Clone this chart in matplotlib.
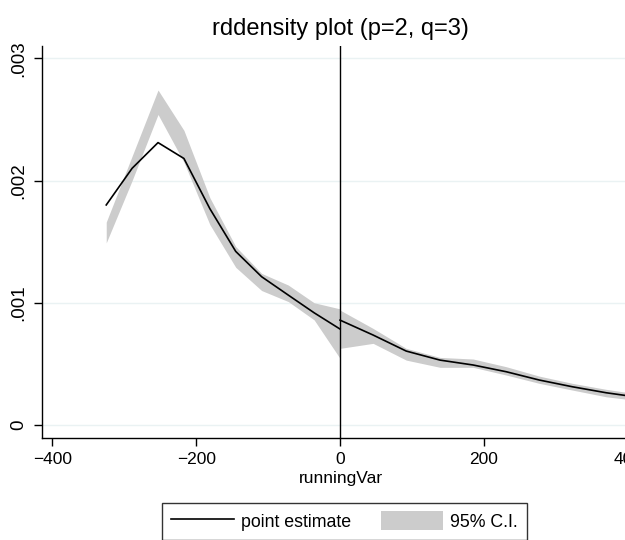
import matplotlib
matplotlib.use("Agg")
import matplotlib.pyplot as plt
from matplotlib.lines import Line2D
from matplotlib.patches import Patch

plt.rcParams["font.family"] = ["Liberation Sans", "DejaVu Sans"]

# density estimate left of cutoff
x_left = [-325, -289, -253, -217, -181, -145, -109, -72, -36, 0]
f_left = [1.80e-3, 2.10e-3, 2.31e-3, 2.18e-3, 1.77e-3, 1.42e-3, 1.213e-3, 1.063e-3, 0.918e-3, 0.785e-3]
lo_left = [1.49e-3, 2.00e-3, 2.54e-3, 2.15e-3, 1.64e-3, 1.29e-3, 1.10e-3, 1.01e-3, 0.86e-3, 0.545e-3]
hi_left = [1.66e-3, 2.20e-3, 2.74e-3, 2.41e-3, 1.86e-3, 1.46e-3, 1.24e-3, 1.145e-3, 1.00e-3, 0.95e-3]

# density estimate right of cutoff
x_right = [0, 46, 92, 139, 185, 231, 277, 323, 370, 416]
f_right = [0.858e-3, 0.736e-3, 0.605e-3, 0.531e-3, 0.491e-3, 0.436e-3, 0.368e-3, 0.313e-3, 0.264e-3, 0.226e-3]
lo_right = [0.627e-3, 0.668e-3, 0.531e-3, 0.472e-3, 0.472e-3, 0.409e-3, 0.341e-3, 0.286e-3, 0.231e-3, 0.199e-3]
hi_right = [0.940e-3, 0.790e-3, 0.627e-3, 0.553e-3, 0.540e-3, 0.477e-3, 0.400e-3, 0.341e-3, 0.292e-3, 0.252e-3]

x_ticks = [-400, -200, 0, 200, 400]
y_ticks = [0, 0.001, 0.002, 0.003]
y_labels = ["0", ".001", ".002", ".003"]

band_col = "#cccccc"

fig = plt.figure(figsize=(6.25, 5.4), dpi=100)
fig.patch.set_facecolor("white")
# axes deliberately runs past the right edge, like the cropped original
ax = fig.add_axes([0.0664, 0.1889, 0.9576, 0.7259])

for side in ("top", "right"):
    ax.spines[side].set_visible(False)
for side in ("left", "bottom"):
    ax.spines[side].set_linewidth(1.0)

ax.grid(axis="y", color="#eaf2f3", linewidth=1.0)
ax.set_axisbelow(True)

ax.fill_between(x_left, lo_left, hi_left, color=band_col, linewidth=0, zorder=2)
ax.fill_between(x_right, lo_right, hi_right, color=band_col, linewidth=0, zorder=2)
ax.plot(x_left, f_left, color="black", linewidth=1.2, zorder=3)
ax.plot(x_right, f_right, color="black", linewidth=1.2, zorder=3)
ax.axvline(0, color="black", linewidth=1.0, zorder=4)

ax.set_xlim(-415, 417)
ax.set_ylim(-0.000106, 0.0031)
ax.set_xticks(x_ticks)
ax.set_xticklabels(["\u2212400", "\u2212200", "0", "200", "400"])
ax.set_yticks(y_ticks)
ax.set_yticklabels(y_labels, rotation=90, va="center")
ax.tick_params(direction="out", length=6, width=1, labelsize=12.5, pad=4)
ax.tick_params(axis="y", labelsize=13.5)

ax.set_xlabel("runningVar", fontsize=12.5, labelpad=3)
ax.set_title("rddensity plot (p=2, q=3)", fontsize=17, pad=8)

handles = [Line2D([], [], color="black", linewidth=1.2),
           Patch(facecolor=band_col, edgecolor="none")]
leg = fig.legend(handles, ["point estimate", "95% C.I."], ncol=2,
                 loc="center", bbox_to_anchor=(0.5515, 0.035),
                 fontsize=12.8, frameon=True, fancybox=False,
                 handlelength=3.5, handleheight=1.25, handletextpad=0.4,
                 columnspacing=1.7, borderpad=0.5)
leg.get_frame().set_edgecolor("black")
leg.get_frame().set_linewidth(1.0)

fig.savefig("out.png", dpi=100)
